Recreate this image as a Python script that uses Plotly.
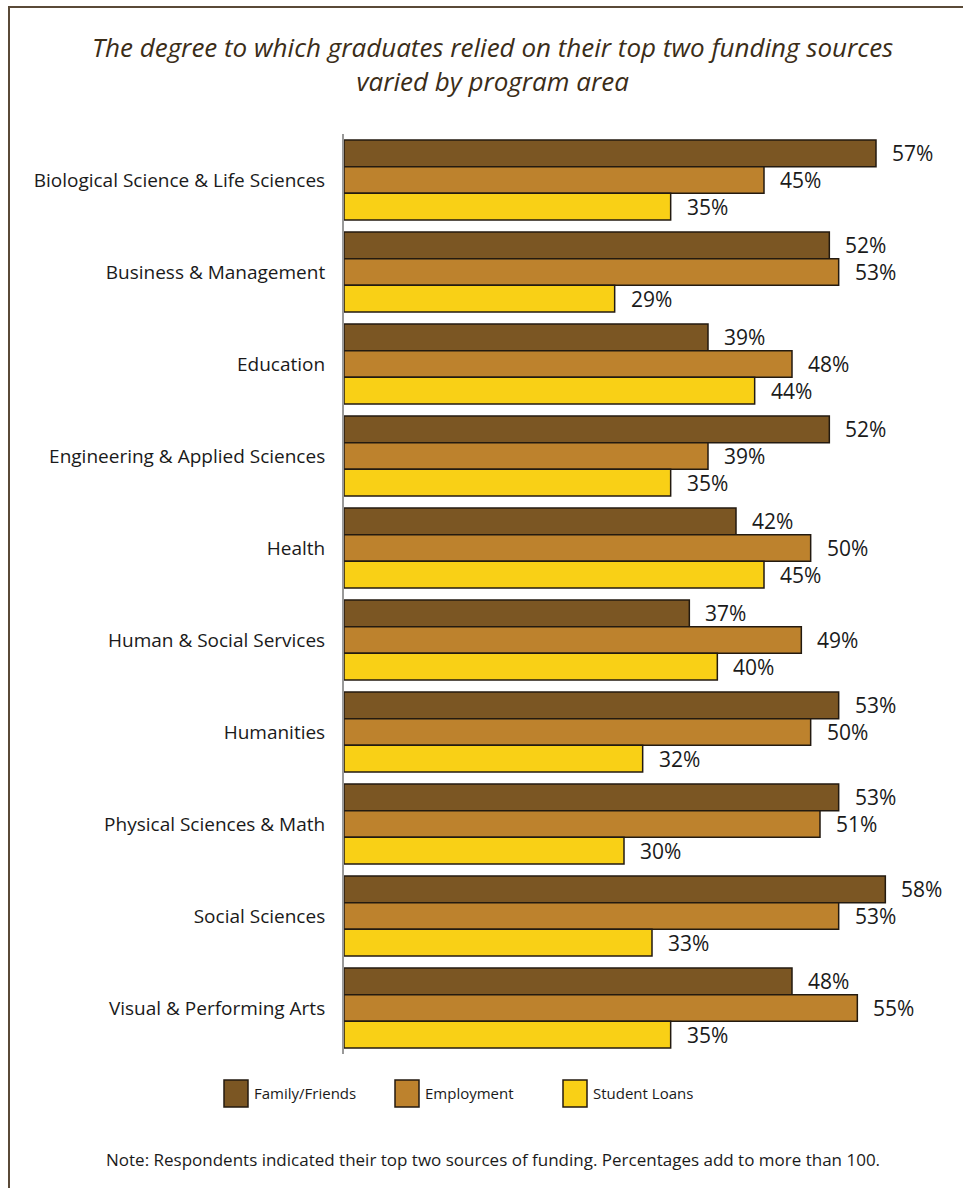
import plotly.graph_objects as go

# Program areas (top to bottom) and share of graduates relying on each source (%)
programs = [
    "Biological Science & Life Sciences",
    "Business & Management",
    "Education",
    "Engineering & Applied Sciences",
    "Health",
    "Human & Social Services",
    "Humanities",
    "Physical Sciences & Math",
    "Social Sciences",
    "Visual & Performing Arts",
]
family_friends = [57, 52, 39, 52, 42, 37, 53, 53, 58, 48]
employment = [45, 53, 48, 39, 50, 49, 50, 51, 53, 55]
student_loans = [35, 29, 44, 35, 45, 40, 32, 30, 33, 35]

series = [
    ("Family/Friends", family_friends, "#7B5623"),
    ("Employment", employment, "#BD822D"),
    ("Student Loans", student_loans, "#F9D016"),
]

W, H = 963, 1188
M_L, M_R, M_T, M_B = 344, 3, 134, 134
PW, PH = W - M_L - M_R, H - M_T - M_B
FONT = "Open Sans"


def px(x):
    return (x - M_L) / PW


def py(y):
    return 1 - (y - M_T) / PH


fig = go.Figure()
for name, vals, color in series:
    fig.add_trace(go.Bar(
        y=programs, x=vals, name=name, orientation="h",
        marker=dict(color=color, line=dict(color="#231a10", width=1.5)),
        showlegend=False,
    ))

# Value labels to the right of each bar
annotations = []
shifts = [27, 0, -27]
for (name, vals, color), ys in zip(series, shifts):
    for prog, v in zip(programs, vals):
        annotations.append(dict(
            x=v, y=prog, xref="x", yref="y", text=f"{v}%", showarrow=False,
            xanchor="left", yanchor="middle", xshift=14, yshift=ys,
            font=dict(family=FONT, size=21, color="#1a1a1a"),
        ))

# Title
annotations.append(dict(
    x=px(492), y=py(64), xref="paper", yref="paper", showarrow=False,
    text="<i>The degree to which graduates relied on their top two funding sources<br>varied by program area</i>",
    font=dict(family=FONT, size=26, color="#3b2d18"), align="center",
    xanchor="center", yanchor="middle",
))

# Footnote
annotations.append(dict(
    x=px(493), y=py(1159), xref="paper", yref="paper", showarrow=False,
    text="Note: Respondents indicated their top two sources of funding. Percentages add to more than 100.",
    font=dict(family=FONT, size=17, color="#1a1a1a"), xanchor="center", yanchor="middle",
))

# Legend built from swatches and labels
shapes = []
legend_items = [(224, "Family/Friends"), (395, "Employment"), (563, "Student Loans")]
for (x0, label), (_, _, color) in zip(legend_items, series):
    shapes.append(dict(
        type="rect", xref="paper", yref="paper",
        x0=px(x0), x1=px(x0 + 24), y0=py(1080), y1=py(1107),
        fillcolor=color, line=dict(color="#231a10", width=1.5),
    ))
    annotations.append(dict(
        x=px(x0 + 28), y=py(1093), xref="paper", yref="paper", showarrow=False,
        text=label, xanchor="left", yanchor="middle",
        font=dict(family=FONT, size=15, color="#1a1a1a"),
    ))

# Outer frame
shapes.append(dict(
    type="rect", xref="paper", yref="paper",
    x0=px(9), x1=px(975), y0=py(7), y1=py(1200),
    line=dict(color="#5a4a38", width=2), fillcolor="rgba(0,0,0,0)", layer="below",
))

fig.update_layout(
    width=W, height=H,
    margin=dict(l=M_L, r=M_R, t=M_T, b=M_B),
    paper_bgcolor="white", plot_bgcolor="white",
    barmode="group", bargap=0.13, bargroupgap=0,
    font=dict(family=FONT, color="#1a1a1a"),
    xaxis=dict(range=[0, 66], visible=False, fixedrange=True),
    yaxis=dict(
        autorange="reversed", showline=True, linecolor="#999999", linewidth=2,
        ticks="", ticklabelstandoff=13, showgrid=False,
        tickfont=dict(family=FONT, size=19, color="#1a1a1a"),
    ),
    annotations=annotations, shapes=shapes,
)

fig.write_html("out.html")
